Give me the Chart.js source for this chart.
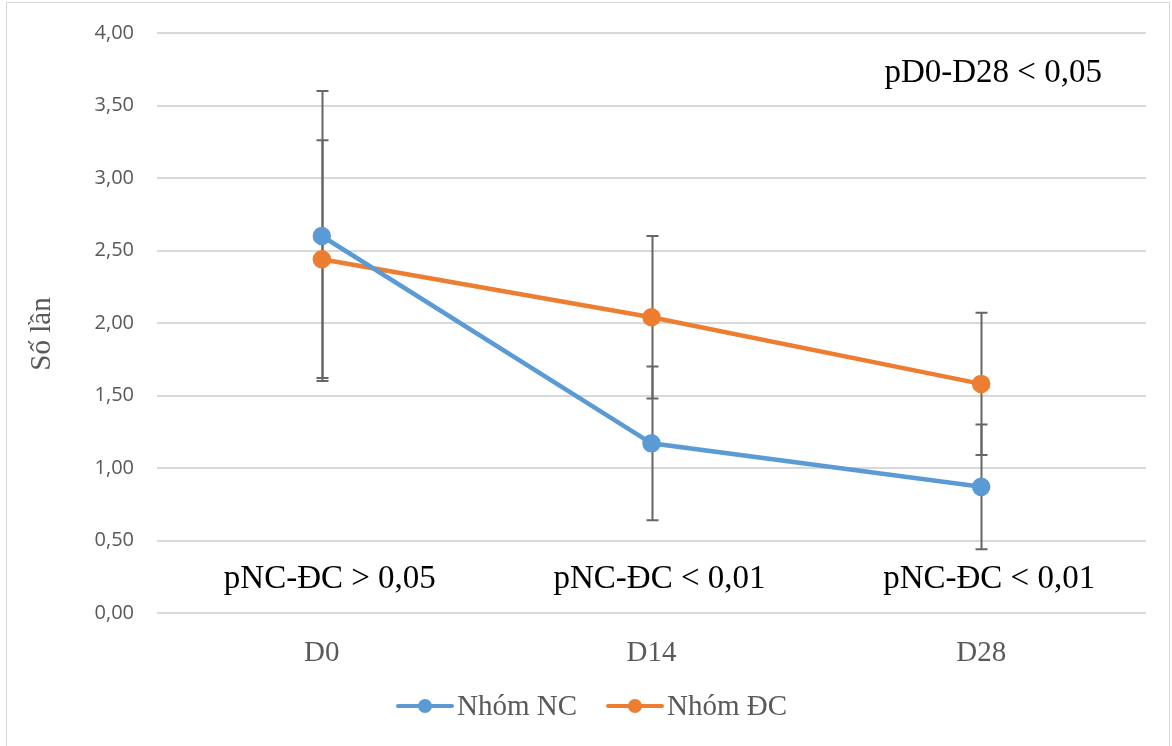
<!DOCTYPE html>
<html>
<head>
<meta charset="utf-8">
<script src="https://cdn.jsdelivr.net/npm/chart.js@4.4.1/dist/chart.umd.min.js"></script>
<style>
  html, body { margin: 0; padding: 0; background: #fff; }
  #wrap { width: 1172px; height: 746px; position: relative; }
</style>
</head>
<body>
<div id="wrap"><canvas id="chart" width="1172" height="746"></canvas></div>
<script>
// data
const days = ["D0", "D14", "D28"];
const groupNames = ["Nhóm NC", "Nhóm ĐC"];
const ncMean = [2.60, 1.17, 0.87];
const ncSd = [1.00, 0.53, 0.43];
const dcMean = [2.44, 2.04, 1.58];
const dcSd = [0.82, 0.56, 0.49];
const yTicks = [0, 0.5, 1, 1.5, 2, 2.5, 3, 3.5, 4];
const pLabels = ["pNC-ĐC > 0,05", "pNC-ĐC < 0,01", "pNC-ĐC < 0,01"];
const pOverall = "pD0-D28 < 0,05";

const blue = "#5B9BD5";
const orange = "#ED7D31";
const serif = "'Liberation Serif', 'Times New Roman', serif";

const fmt = v => v.toFixed(2).replace(".", ",");

// error bars behind the lines
const errorBars = {
  id: "errorBars",
  beforeDatasetsDraw(chart) {
    const ctx = chart.ctx;
    const xs = chart.scales.x, ys = chart.scales.y;
    const sets = [[ncMean, ncSd], [dcMean, dcSd]];
    ctx.save();
    ctx.strokeStyle = "#666666";
    ctx.lineWidth = 2;
    sets.forEach(([m, sd]) => {
      m.forEach((v, i) => {
        const x = Math.round(xs.getPixelForValue(i)) + 0.5;
        const top = ys.getPixelForValue(v + sd[i]);
        const bot = ys.getPixelForValue(v - sd[i]);
        ctx.beginPath();
        ctx.moveTo(x, top); ctx.lineTo(x, bot);
        ctx.moveTo(x - 6, top); ctx.lineTo(x + 6, top);
        ctx.moveTo(x - 6, bot); ctx.lineTo(x + 6, bot);
        ctx.stroke();
      });
    });
    ctx.restore();
  }
};

// texts, legend, y title and outer frame
const extras = {
  id: "extras",
  afterDraw(chart) {
    const ctx = chart.ctx;
    const xs = chart.scales.x, ys = chart.scales.y;
    ctx.save();
    ctx.fillStyle = "#000";
    ctx.font = "33px " + serif;
    ctx.textAlign = "center";
    ctx.textBaseline = "middle";
    pLabels.forEach((t, i) => {
      ctx.fillText(t, xs.getPixelForValue(i) + 8, ys.getPixelForValue(0.23));
    });
    ctx.fillText(pOverall, xs.getPixelForValue(2) + 12, ys.getPixelForValue(3.72));

    // y title
    ctx.save();
    ctx.translate(42, 334);
    ctx.rotate(-Math.PI / 2);
    ctx.fillStyle = "#595959";
    ctx.font = "29px " + serif;
    ctx.fillText("Số lần", 0, 0);
    ctx.restore();

    // legend
    const cols = [blue, orange];
    const starts = [398, 608];
    ctx.font = "29px " + serif;
    ctx.textAlign = "left";
    groupNames.forEach((name, i) => {
      const x0 = starts[i], y = 706;
      ctx.strokeStyle = cols[i];
      ctx.lineWidth = 4;
      ctx.lineCap = "round";
      ctx.beginPath(); ctx.moveTo(x0, y); ctx.lineTo(x0 + 54, y); ctx.stroke();
      ctx.fillStyle = cols[i];
      ctx.beginPath(); ctx.arc(x0 + 27, y, 7, 0, Math.PI * 2); ctx.fill();
      ctx.fillStyle = "#595959";
      ctx.fillText(name, x0 + 59, y + 1);
    });

    // frame
    ctx.strokeStyle = "#d9d9d9";
    ctx.lineWidth = 1;
    ctx.strokeRect(6.5, 2.5, 1163, 800);
    ctx.restore();
  }
};

new Chart(document.getElementById("chart"), {
  type: "line",
  data: {
    labels: days,
    datasets: [
      { label: groupNames[0], data: ncMean, borderColor: blue, backgroundColor: blue,
        borderWidth: 4.5, pointRadius: 7, pointHoverRadius: 7, tension: 0 },
      { label: groupNames[1], data: dcMean, borderColor: orange, backgroundColor: orange,
        borderWidth: 4.5, pointRadius: 7, pointHoverRadius: 7, tension: 0 }
    ]
  },
  options: {
    responsive: false,
    animation: false,
    events: [],
    layout: { padding: { left: 0, top: 32, right: 26, bottom: 0 } },
    plugins: { legend: { display: false }, tooltip: { enabled: false } },
    scales: {
      x: {
        offset: true,
        grid: { display: false },
        border: { display: false },
        ticks: { color: "#595959", font: { family: serif, size: 29 }, padding: 15 },
        afterFit(s) { s.height = 133; }
      },
      y: {
        min: 0, max: 4,
        afterBuildTicks(s) { s.ticks = yTicks.map(v => ({ value: v })); },
        grid: { color: "#d9d9d9", lineWidth: 2, drawTicks: false },
        border: { display: false },
        ticks: { color: "#595959", font: { family: "'Open Sans', sans-serif", size: 20, lineHeight: 1 },
                 padding: 23, callback: v => fmt(v) },
        afterFit(s) { s.width = 157; }
      }
    }
  },
  plugins: [errorBars, extras]
});
</script>
</body>
</html>
